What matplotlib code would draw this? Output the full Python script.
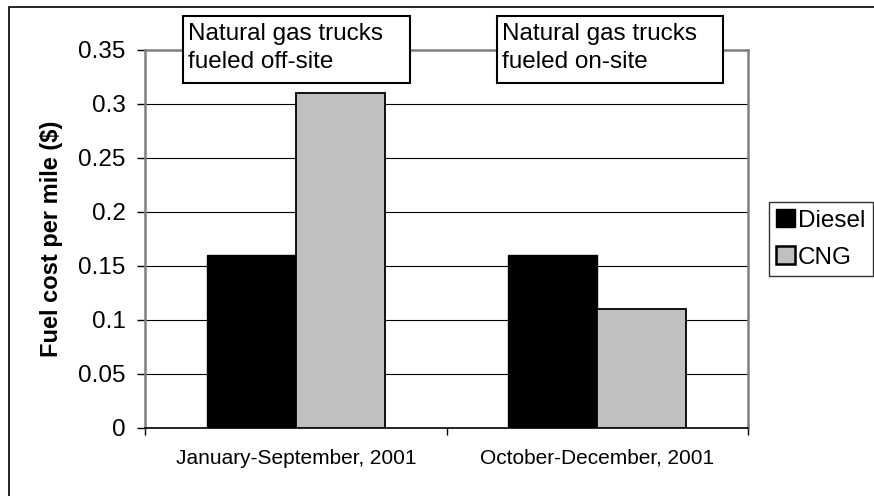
import matplotlib
matplotlib.use("Agg")
import matplotlib.pyplot as plt
from matplotlib.patches import Rectangle, Patch
import numpy as np

# data
categories = ["January-September, 2001", "October-December, 2001"]
diesel = [0.16, 0.16]
cng = [0.31, 0.11]
series_names = ["Diesel", "CNG"]
notes = ["Natural gas trucks\nfueled off-site", "Natural gas trucks\nfueled on-site"]
yticks = [0, 0.05, 0.1, 0.15, 0.2, 0.25, 0.3, 0.35]

plt.rcParams['font.family'] = ['Liberation Sans', 'DejaVu Sans']

W, H = 874, 496
fig = plt.figure(figsize=(W / 100, H / 100), dpi=100)
fig.patch.set_facecolor("white")


def fx(px):
    return px / W


def fy(py):
    return 1 - py / H


# outer chart border (only left and top fall inside the picture)
fig.patches.append(Rectangle((fx(9), fy(500)), 1.2, fy(7) - fy(500), transform=fig.transFigure,
                             fill=False, edgecolor="black", linewidth=1.2, zorder=0))

ax = fig.add_axes([fx(145), fy(428), fx(748) - fx(145), fy(50) - fy(428)])
x = np.arange(len(categories))
w = 0.295
ax.bar(x - w / 2, diesel, w, color="black", edgecolor="black", linewidth=1, zorder=3)
ax.bar(x + w / 2, cng, w, color="#C0C0C0", edgecolor="black", linewidth=1.3, zorder=3)

ax.set_xlim(-0.5, 1.5)
ax.set_ylim(0, 0.35)
ax.set_yticks(yticks)
ax.set_yticklabels(["%g" % v for v in yticks], fontsize=17.5)
ax.yaxis.grid(True, color="black", linewidth=0.8, zorder=0)
ax.set_axisbelow(True)
ax.tick_params(axis="y", direction="out", length=6, width=1, pad=8)

ax.set_xticks(x)
ax.set_xticklabels(categories, fontsize=15)
ax.set_xticks([-0.5, 0.5, 1.5], minor=True)
ax.tick_params(axis="x", which="major", length=0, pad=15)
ax.tick_params(axis="x", which="minor", direction="out", length=5, width=1)

for side in ["left", "top", "right"]:
    ax.spines[side].set_color("#808080")
    ax.spines[side].set_linewidth(1.8)
ax.spines["bottom"].set_color("black")
ax.spines["bottom"].set_linewidth(1.2)

fig.text(fx(52), fy(239), "Fuel cost per mile (\\$)", fontsize=17, fontweight="bold",
         rotation=90, ha="center", va="center")

# note boxes above each group
boxes = [(183, 16, 410, 83), (497, 16, 723, 83)]
for (x0, y0, x1, y1), note in zip(boxes, notes):
    fig.patches.append(Rectangle((fx(x0), fy(y1)), fx(x1) - fx(x0), fy(y0) - fy(y1),
                                 transform=fig.transFigure, facecolor="white",
                                 edgecolor="black", linewidth=1.5, zorder=5))
    for i, line in enumerate(note.split("\n")):
        fig.text(fx(x0 + 5), fy(40 + 28 * i), line, fontsize=17.5, va="baseline",
                 ha="left", zorder=6)

handles = [Patch(facecolor="black", edgecolor="black", label=series_names[0]),
           Patch(facecolor="#C0C0C0", edgecolor="black", linewidth=1.8, label=series_names[1])]
leg = fig.legend(handles=handles, loc="upper left", bbox_to_anchor=(fx(769), fy(202)),
                 fontsize=17.5, frameon=True, fancybox=False, handlelength=0.75,
                 handleheight=0.75, handletextpad=0.15, borderpad=0.3, labelspacing=0.6,
                 borderaxespad=0)
leg.get_frame().set_edgecolor("black")
leg.get_frame().set_linewidth(1.0)

fig.savefig("out.png", dpi=100)
